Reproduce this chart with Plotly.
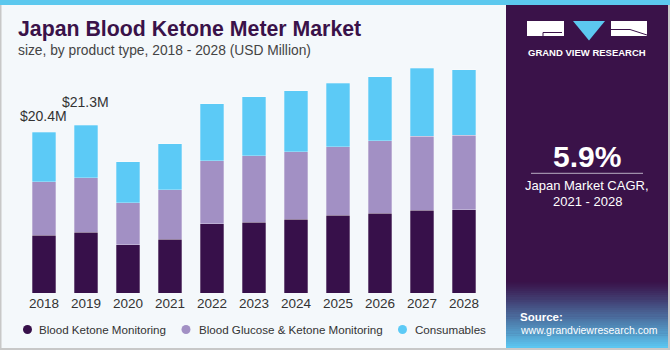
import plotly.graph_objects as go

years = ["2018", "2019", "2020", "2021", "2022", "2023", "2024", "2025", "2026", "2027", "2028"]
blood_ketone = [7.36, 7.70, 6.13, 6.85, 8.76, 9.01, 9.35, 9.86, 10.11, 10.49, 10.57]
glucose_ketone = [6.73, 6.93, 5.33, 6.26, 8.00, 8.38, 8.58, 8.67, 9.21, 9.43, 9.44]
consumables = [6.31, 6.67, 5.20, 5.80, 7.27, 7.53, 7.74, 8.08, 8.12, 8.59, 8.32]
series_names = ["Blood Ketone Monitoring", "Blood Glucose & Ketone Monitoring", "Consumables"]
total_labels = {"2018": "$20.4M", "2019": "$21.3M"}

W, H = 670, 350
L, R, T, B = 23, 185, 60, 57
PW, PH = W - L - R, H - T - B

C_DARK = "#37104A"
C_PURP = "#A290C4"
C_BLUE = "#5CCAF6"
C_PANEL = "#3A1249"
BG = "#F4F8FB"
FONT = "Liberation Sans"


def px(x):
    return (x - L) / PW


def py(y):
    return (H - B - y) / PH


fig = go.Figure()
for name, vals, col in zip(series_names, [blood_ketone, glucose_ketone, consumables], [C_DARK, C_PURP, C_BLUE]):
    fig.add_trace(go.Bar(x=years, y=vals, name=name, marker=dict(color=col, line=dict(color="rgba(255,255,255,0.35)", width=0.8)), showlegend=False))

totals = [a + b + c for a, b, c in zip(blood_ketone, glucose_ketone, consumables)]
shifts = {"2018": 16, "2019": 23}
annotations = []
for yr, lab in total_labels.items():
    i = years.index(yr)
    annotations.append(dict(x=i, y=totals[i], text=lab, showarrow=False, yshift=shifts[yr], xshift=-1,
                            font=dict(family=FONT, size=14, color="#333333"), xref="x", yref="y"))

shapes = []
# background, borders
shapes.append(dict(type="rect", xref="paper", yref="paper", x0=px(0), x1=px(W), y0=py(H), y1=py(0), fillcolor=BG, line_width=0, layer="below"))
shapes.append(dict(type="rect", xref="paper", yref="paper", x0=px(0), x1=px(W), y0=py(5), y1=py(0), fillcolor="#5CC8EE", line_width=0))
shapes.append(dict(type="rect", xref="paper", yref="paper", x0=px(506), x1=px(668), y0=py(348), y1=py(5), fillcolor=C_PANEL, line_width=0))
# gradient in source area
n = 32
y_top, y_bot = 280, 348
c0 = (0x3A, 0x12, 0x49)
c1 = (0x5C, 0xC6, 0xF0)
for k in range(n):
    t = k / (n - 1)
    t2 = t ** 1.1
    c = tuple(int(c0[j] + (c1[j] - c0[j]) * t2) for j in range(3))
    ya = y_top + (y_bot - y_top) * k / n
    yb = y_top + (y_bot - y_top) * (k + 1) / n
    shapes.append(dict(type="rect", xref="paper", yref="paper", x0=px(506), x1=px(668), y0=py(yb + 0.5), y1=py(ya),
                       fillcolor="rgb(%d,%d,%d)" % c, line_width=0))
# borders
shapes.append(dict(type="rect", xref="paper", yref="paper", x0=px(0), x1=px(1.5), y0=py(H), y1=py(5), fillcolor="#C8C8C8", line_width=0))
shapes.append(dict(type="rect", xref="paper", yref="paper", x0=px(668), x1=px(W), y0=py(H), y1=py(5), fillcolor="#C8C8C8", line_width=0))
shapes.append(dict(type="rect", xref="paper", yref="paper", x0=px(0), x1=px(W), y0=py(H), y1=py(348), fillcolor="#C8C8C8", line_width=0))
# logo
shapes.append(dict(type="rect", xref="paper", yref="paper", x0=px(527), x1=px(564), y0=py(36), y1=py(21), fillcolor="white", line_width=0))
shapes.append(dict(type="path", xref="paper", yref="paper",
                   path="M %f,%f L %f,%f L %f,%f Z" % (px(573), py(21), px(605), py(21), px(589), py(40.5)),
                   fillcolor="#5CC8F0", line_width=0))
shapes.append(dict(type="rect", xref="paper", yref="paper", x0=px(611), x1=px(647), y0=py(36), y1=py(21), fillcolor="white", line_width=0))
shapes.append(dict(type="line", xref="paper", yref="paper", x0=px(543), x1=px(562), y0=py(32.5), y1=py(32.5), line=dict(color=C_PANEL, width=1)))
shapes.append(dict(type="line", xref="paper", yref="paper", x0=px(543), x1=px(543), y0=py(32.5), y1=py(36), line=dict(color=C_PANEL, width=1)))
shapes.append(dict(type="line", xref="paper", yref="paper", x0=px(630), x1=px(647), y0=py(29.5), y1=py(35), line=dict(color=C_PANEL, width=1)))
shapes.append(dict(type="line", xref="paper", yref="paper", x0=px(611), x1=px(630), y0=py(29.5), y1=py(29.5), line=dict(color=C_PANEL, width=1)))
# CAGR separator
shapes.append(dict(type="line", xref="paper", yref="paper", x0=px(531), x1=px(643), y0=py(173.3), y1=py(173.3), line=dict(color="#B9AEC4", width=1)))

# legend markers + texts
leg_x = [27.5, 186, 402.5]
leg_tx = [37, 196.5, 413]
for i, (name, col) in enumerate(zip(series_names, [C_DARK, C_PURP, C_BLUE])):
    shapes.append(dict(type="circle", xref="paper", yref="paper", x0=px(leg_x[i] - 4.5), x1=px(leg_x[i] + 4.5),
                       y0=py(329.5 + 4.5), y1=py(329.5 - 4.5), fillcolor=col, line_width=0))
    annotations.append(dict(xref="paper", yref="paper", x=px(leg_tx[i]), y=py(329), xanchor="left", yanchor="middle",
                            text=name, showarrow=False, font=dict(family=FONT, size=11.6, color="#333333")))

# title texts
annotations.append(dict(xref="paper", yref="paper", x=px(16), y=py(29), xanchor="left", yanchor="middle",
                        text="<b>Japan Blood Ketone Meter Market</b>", showarrow=False,
                        font=dict(family=FONT, size=21.3, color=C_PANEL)))
annotations.append(dict(xref="paper", yref="paper", x=px(16), y=py(50), xanchor="left", yanchor="middle",
                        text="size, by product type, 2018 - 2028 (USD Million)", showarrow=False,
                        font=dict(family=FONT, size=13.8, color="#444444")))
annotations.append(dict(xref="paper", yref="paper", x=px(587), y=py(52.5), xanchor="center", yanchor="middle",
                        text="<b>GRAND VIEW RESEARCH</b>", showarrow=False,
                        font=dict(family=FONT, size=9.5, color="white")))
annotations.append(dict(xref="paper", yref="paper", x=px(587), y=py(156), xanchor="center", yanchor="middle",
                        text="<b>5.9%</b>", showarrow=False, font=dict(family=FONT, size=30, color="white")))
annotations.append(dict(xref="paper", yref="paper", x=px(587), y=py(185), xanchor="center", yanchor="middle",
                        text="Japan Market CAGR,", showarrow=False, font=dict(family=FONT, size=13, color="white")))
annotations.append(dict(xref="paper", yref="paper", x=px(587), y=py(201), xanchor="center", yanchor="middle",
                        text="2021 - 2028", showarrow=False, font=dict(family=FONT, size=13, color="white")))
annotations.append(dict(xref="paper", yref="paper", x=px(518), y=py(316.5), xanchor="left", yanchor="middle",
                        text="<b>Source:</b>", showarrow=False, font=dict(family=FONT, size=11.5, color="white")))
annotations.append(dict(xref="paper", yref="paper", x=px(518), y=py(329.5), xanchor="left", yanchor="middle",
                        text="www.grandviewresearch.com", showarrow=False, font=dict(family=FONT, size=10.5, color="white")))

fig.update_layout(
    width=W, height=H, barmode="stack", bargap=0.43,
    margin=dict(l=L, r=R, t=T, b=B, pad=0),
    paper_bgcolor=BG, plot_bgcolor="rgba(0,0,0,0)",
    xaxis=dict(type="category", showgrid=False, zeroline=False, showline=False, ticks="",
               tickfont=dict(family=FONT, size=13.5, color="#333333"), range=[-0.5, 10.5]),
    yaxis=dict(visible=False, range=[0, PH / 7.88]),
    shapes=shapes, annotations=annotations, showlegend=False,
)
fig.write_html("out.html")
